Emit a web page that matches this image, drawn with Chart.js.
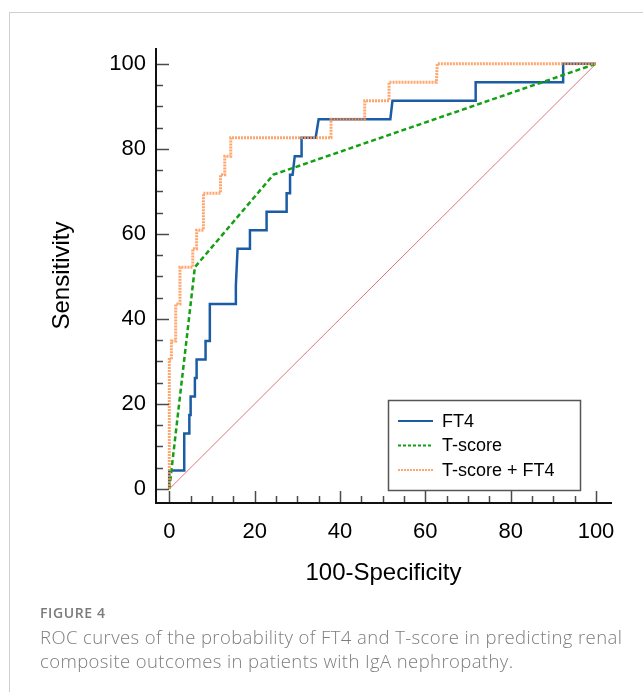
<!DOCTYPE html>
<html><head><meta charset="utf-8">
<script src="https://cdn.jsdelivr.net/npm/chart.js@4.4.1/dist/chart.umd.min.js"></script>
<style>
html,body{margin:0;padding:0;background:#fff;}
body{width:643px;height:692px;position:relative;overflow:hidden;}
#frame{position:absolute;left:9px;top:12px;width:700px;height:700px;border-left:1px solid #cfcfcf;border-top:1px solid #cfcfcf;}
#c{position:absolute;left:0;top:0;}
#fig{position:absolute;left:40px;top:604px;font:600 14px/18px "Open Sans";color:#7b7b7b;letter-spacing:0.6px;white-space:nowrap;}
#cap{position:absolute;left:40px;top:625px;font:300 18.5px/24px "Open Sans";color:#7d7d7d;letter-spacing:0.4px;white-space:nowrap;}
</style></head><body>
<div id="frame"></div>
<canvas id="c" width="643" height="692"></canvas>
<div id="fig">FIGURE 4</div>
<div id="cap">ROC curves of the probability of FT4 and T-score in predicting renal<br>composite outcomes in patients with IgA nephropathy.</div>
<script>
// ---- data (100-Specificity, Sensitivity) ----
const seriesNames = ['FT4', 'T-score', 'T-score + FT4'];
const ft4X = [0,0,3.5,3.5,4.7,4.7,5.0,5.0,6.0,6.0,6.4,6.4,8.5,8.5,9.5,9.5,15.6,15.6,16.0,18.9,18.9,22.8,22.8,27.5,27.5,28.3,28.3,28.9,29.4,31.0,31.0,34.3,35.0,51.8,52.3,71.8,71.8,92.3,92.3,100];
const ft4Y = [0,4.35,4.35,13.04,13.04,17.39,17.39,21.74,21.74,26.09,26.09,30.43,30.43,34.78,34.78,43.48,43.48,47.83,56.52,56.52,60.87,60.87,65.22,65.22,69.57,69.57,73.91,73.91,78.26,78.26,82.61,82.61,86.96,86.96,91.30,91.30,95.65,95.65,100,100];
const tsX = [0,6.0,24.4,100];
const tsY = [0,52.17,73.91,100];
const comboX = [0,0,0.5,0.5,1.5,1.5,2.5,2.5,5.5,5.5,6.4,6.4,8.0,8.0,12.0,12.0,13.0,13.0,14.4,14.4,37.9,37.9,45.8,45.8,51.5,51.5,62.6,62.8,100];
const comboY = [0,30.43,30.43,34.78,34.78,43.48,43.48,52.17,52.17,56.52,56.52,60.87,60.87,69.57,69.57,73.91,73.91,78.26,78.26,82.61,82.61,86.96,86.96,91.30,91.30,95.65,95.65,100,100];
const refX = [0,100];
const refY = [0,100];
const xTicks = [0,5,10,15,20,25,30,35,40,45,50,55,60,65,70,75,80,85,90,95,100];
const yTicks = [0,5,10,15,20,25,30,35,40,45,50,55,60,65,70,75,80,85,90,95,100];
const xTitle = '100-Specificity';
const yTitle = 'Sensitivity';

const pts = (xs, ys) => xs.map((x, i) => ({x: x, y: ys[i]}));
const FONT = '"Liberation Sans", Arial, sans-serif';

const axesPlugin = {
  id: 'axesPlugin',
  afterDatasetsDraw(chart) {
    const {ctx, chartArea: a, scales: {x, y}} = chart;
    ctx.save();
    ctx.strokeStyle = '#4a4a4a';
    ctx.lineWidth = 1.5;
    x.ticks.forEach(t => {
      const px = Math.round(x.getPixelForValue(t.value)) + 0.5;
      const len = t.value % 20 === 0 ? 12 : 7;
      ctx.beginPath(); ctx.moveTo(px, a.bottom); ctx.lineTo(px, a.bottom - len); ctx.stroke();
    });
    y.ticks.forEach(t => {
      const py = Math.round(y.getPixelForValue(t.value)) + 0.5;
      const len = t.value % 20 === 0 ? 13 : 7;
      ctx.beginPath(); ctx.moveTo(a.left + 1, py); ctx.lineTo(a.left + 1 + len, py); ctx.stroke();
    });
    ctx.strokeStyle = '#111';
    ctx.lineWidth = 2;
    ctx.beginPath();
    ctx.moveTo(a.left + 1, a.top);
    ctx.lineTo(a.left + 1, a.bottom + 1);
    ctx.moveTo(a.left, a.bottom);
    ctx.lineTo(a.right, a.bottom);
    ctx.stroke();
    ctx.restore();
  }
};

const legendPlugin = {
  id: 'boxLegend',
  afterDraw(chart) {
    const ctx = chart.ctx;
    const bx = 388.5, by = 400.5, bw = 192, bh = 90;
    ctx.save();
    ctx.fillStyle = '#fff';
    ctx.fillRect(bx, by, bw, bh);
    ctx.strokeStyle = '#555';
    ctx.lineWidth = 1.5;
    ctx.strokeRect(bx, by, bw, bh);
    const items = chart.data.datasets.filter(d => d.showInLegend);
    items.forEach((d, i) => {
      const cy = 421 + i * 24.5;
      ctx.save();
      ctx.strokeStyle = d.borderColor;
      ctx.lineWidth = 2;
      ctx.setLineDash(d.legendDash || []);
      ctx.beginPath(); ctx.moveTo(398, cy); ctx.lineTo(433, cy); ctx.stroke();
      ctx.restore();
      ctx.fillStyle = '#000';
      ctx.font = '18px ' + FONT;
      ctx.textBaseline = 'middle';
      ctx.textAlign = 'left';
      ctx.fillText(d.label, 442, cy + 1);
    });
    ctx.restore();
  }
};

new Chart(document.getElementById('c'), {
  type: 'line',
  data: {
    datasets: [
      {label: seriesNames[0], showInLegend: true, data: pts(ft4X, ft4Y), borderColor: '#1b5ca5', borderWidth: 2.5, order: 2, legendDash: []},
      {label: seriesNames[1], showInLegend: true, data: pts(tsX, tsY), borderColor: '#14a014', borderWidth: 2.5, borderDash: [5, 3], order: 1, legendDash: [3, 2]},
      {label: seriesNames[2], showInLegend: true, data: pts(comboX, comboY), borderColor: 'rgba(255,150,85,0.85)', borderWidth: 3, borderDash: [2, 1], order: 0, legendDash: [2, 1]},
      {label: '', showInLegend: false, data: pts(refX, refY), borderColor: 'rgba(220,105,105,0.9)', borderWidth: 1, order: 3}
    ]
  },
  options: {
    responsive: false,
    animation: false,
    layout: {padding: {left: 0, right: 31, top: 48, bottom: 0}},
    elements: {point: {radius: 0}, line: {tension: 0, fill: false, borderCapStyle: 'butt'}},
    plugins: {legend: {display: false}, tooltip: {enabled: false}},
    scales: {
      x: {
        type: 'linear', min: -3.35, max: 103.75,
        afterBuildTicks: s => { s.ticks = xTicks.map(v => ({value: v})); },
        afterFit: s => { s.height = 189; },
        grid: {display: false, drawTicks: false}, border: {display: false},
        ticks: {autoSkip: false, maxRotation: 0, padding: 16, color: '#000',
          font: {family: FONT, size: 22},
          callback: v => (v % 20 === 0 ? String(v) : '')},
        title: {display: true, text: xTitle, color: '#000', font: {family: FONT, size: 24}, padding: {top: 0, bottom: 104.6}}
      },
      y: {
        type: 'linear', min: -3.29, max: 103.7,
        afterBuildTicks: s => { s.ticks = yTicks.map(v => ({value: v})); },
        afterFit: s => { s.width = 155; },
        grid: {display: false, drawTicks: false}, border: {display: false},
        ticks: {autoSkip: false, padding: 9, color: '#000',
          font: {family: FONT, size: 22},
          callback: v => (v % 20 === 0 ? String(v) : '')},
        title: {display: true, text: yTitle, color: '#000', font: {family: FONT, size: 24}, padding: {top: 47.6, bottom: 0}}
      }
    }
  },
  plugins: [axesPlugin, legendPlugin]
});
</script>
</body></html>
